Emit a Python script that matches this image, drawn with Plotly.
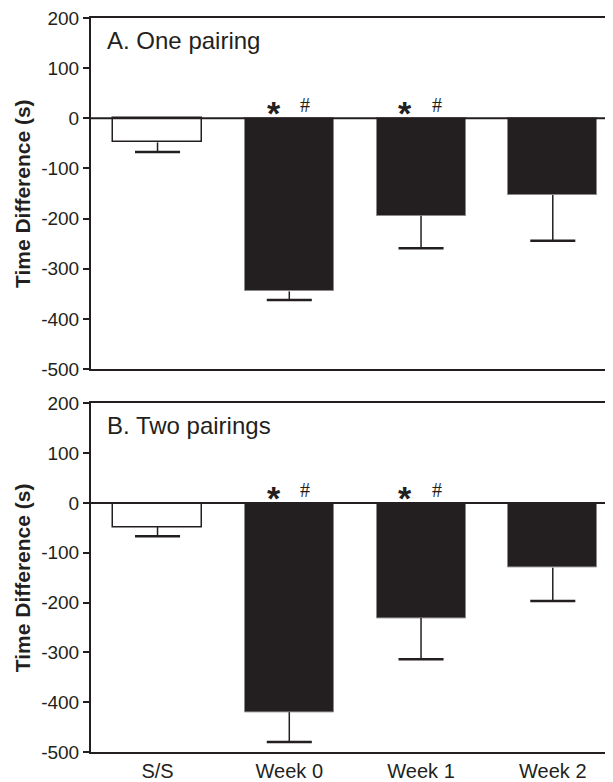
import plotly.graph_objects as go
from plotly.subplots import make_subplots

categories = ["S/S", "Week 0", "Week 1", "Week 2"]
panel_titles = ["A. One pairing", "B. Two pairings"]

one_pairing_mean = [-48, -345, -194, -153]
one_pairing_sem = [19, 17, 65, 91]
two_pairing_mean = [-48, -420, -231, -130]
two_pairing_sem = [19, 60, 83, 67]

significant_vs_ss = [False, True, True, False]   # "*"
significant_vs_w2 = [False, True, True, False]   # "#"

y_ticks = [-500, -400, -300, -200, -100, 0, 100, 200]
y_tick_labels = [str(v) for v in y_ticks]

INK = "#231f20"
FONT = "Liberation Sans, Arial, sans-serif"

OFF = 8  # page body margin
W, H = 613 - OFF, 782 - OFF
ML, MR = 91 - OFF, 0
MT = 17.5 - OFF
MB = 782 - 752.3
plot_h = H - MT - MB

def dom(top_px, bot_px):
    top_px -= OFF
    bot_px -= OFF
    return [(H - MB - bot_px) / plot_h, (H - MB - top_px) / plot_h]

fig = make_subplots(rows=2, cols=1, shared_xaxes=False, vertical_spacing=0.05)

x_pos = list(range(len(categories)))
bar_w = 0.675
cap_half = 0.171

panels = [(one_pairing_mean, one_pairing_sem), (two_pairing_mean, two_pairing_sem)]
for i, (means, sems) in enumerate(panels):
    row = i + 1
    fills = ["white" if c == "S/S" else INK for c in categories]
    edges = [INK if c == "S/S" else "#8a8a8a" for c in categories]
    ewid = [1.5 if c == "S/S" else 1 for c in categories]
    fig.add_trace(go.Bar(x=x_pos, y=means, width=bar_w,
                         marker=dict(color=fills, line=dict(color=edges, width=ewid)),
                         showlegend=False, hoverinfo="skip"), row=row, col=1)
    sx, sy, cx, cy = [], [], [], []
    for xp, m, s in zip(x_pos, means, sems):
        sx += [xp, xp, None]
        sy += [m, m - s, None]
        cx += [xp - cap_half, xp + cap_half, None]
        cy += [m - s, m - s, None]
    fig.add_trace(go.Scatter(x=sx, y=sy, mode="lines", line=dict(color=INK, width=1.5),
                             showlegend=False, hoverinfo="skip"), row=row, col=1)
    fig.add_trace(go.Scatter(x=cx, y=cy, mode="lines", line=dict(color=INK, width=2.5),
                             showlegend=False, hoverinfo="skip"), row=row, col=1)
    xr = "x" if row == 1 else "x2"
    yr = "y" if row == 1 else "y2"
    fig.add_shape(type="line", xref=xr + " domain", yref=yr, x0=0, x1=1, y0=0, y1=0,
                  line=dict(color=INK, width=2))
    for xp, a, b in zip(x_pos, significant_vs_ss, significant_vs_w2):
        if a:
            fig.add_annotation(x=xp - 0.118, y=0, xref=xr, yref=yr, text="<b>*</b>",
                               showarrow=False, yanchor="bottom", yshift=-16,
                               font=dict(family=FONT, size=34, color=INK))
        if b:
            fig.add_annotation(x=xp + 0.118, y=0, xref=xr, yref=yr, text="#",
                               showarrow=False, yanchor="bottom", yshift=0,
                               font=dict(family="Liberation Serif, Times New Roman, serif", size=20, color=INK))
    fig.add_annotation(x=0.027, y=1, xref=xr + " domain", yref=yr + " domain",
                       text=panel_titles[i], showarrow=False, xanchor="left", yanchor="top",
                       yshift=-7, font=dict(family=FONT, size=24, color=INK))
    fig.add_annotation(x=(22.5 - 91) / (613 - 91), y=0.5, xref="paper", yref=yr + " domain",
                       text="<b>Time Difference (s)</b>", showarrow=False, textangle=-90,
                       xanchor="center", yanchor="middle", borderpad=0,
                       font=dict(family=FONT, size=21, color=INK))

axis_common = dict(showline=True, linecolor=INK, linewidth=2, showgrid=False, zeroline=False)

fig.update_xaxes(range=[-0.505, 3.457], tickvals=x_pos, ticktext=categories, ticks="",
                 mirror=True, automargin=False, **axis_common)
fig.update_xaxes(showticklabels=False, row=1, col=1)
fig.update_xaxes(showticklabels=True, ticklabelstandoff=0, ticklabeloverflow="allow",
                 tickfont=dict(family=FONT, size=20, color=INK), row=2, col=1)
fig.update_yaxes(range=[-500, 200], tickvals=y_ticks, ticktext=y_tick_labels,
                 ticks="outside", ticklen=6, tickwidth=2, ticklabeloverflow="allow",
                 tickcolor=INK, tickfont=dict(family=FONT, size=19, color=INK),
                 automargin=False, **axis_common)

fig.update_layout(
    width=W, height=H,
    margin=dict(l=ML, r=MR, t=MT, b=MB),
    paper_bgcolor="white", plot_bgcolor="white",
    yaxis=dict(domain=dom(17.5, 369)),
    yaxis2=dict(domain=dom(403.3, 752.3)),
    bargap=0,
)

fig.write_html("out.html")
